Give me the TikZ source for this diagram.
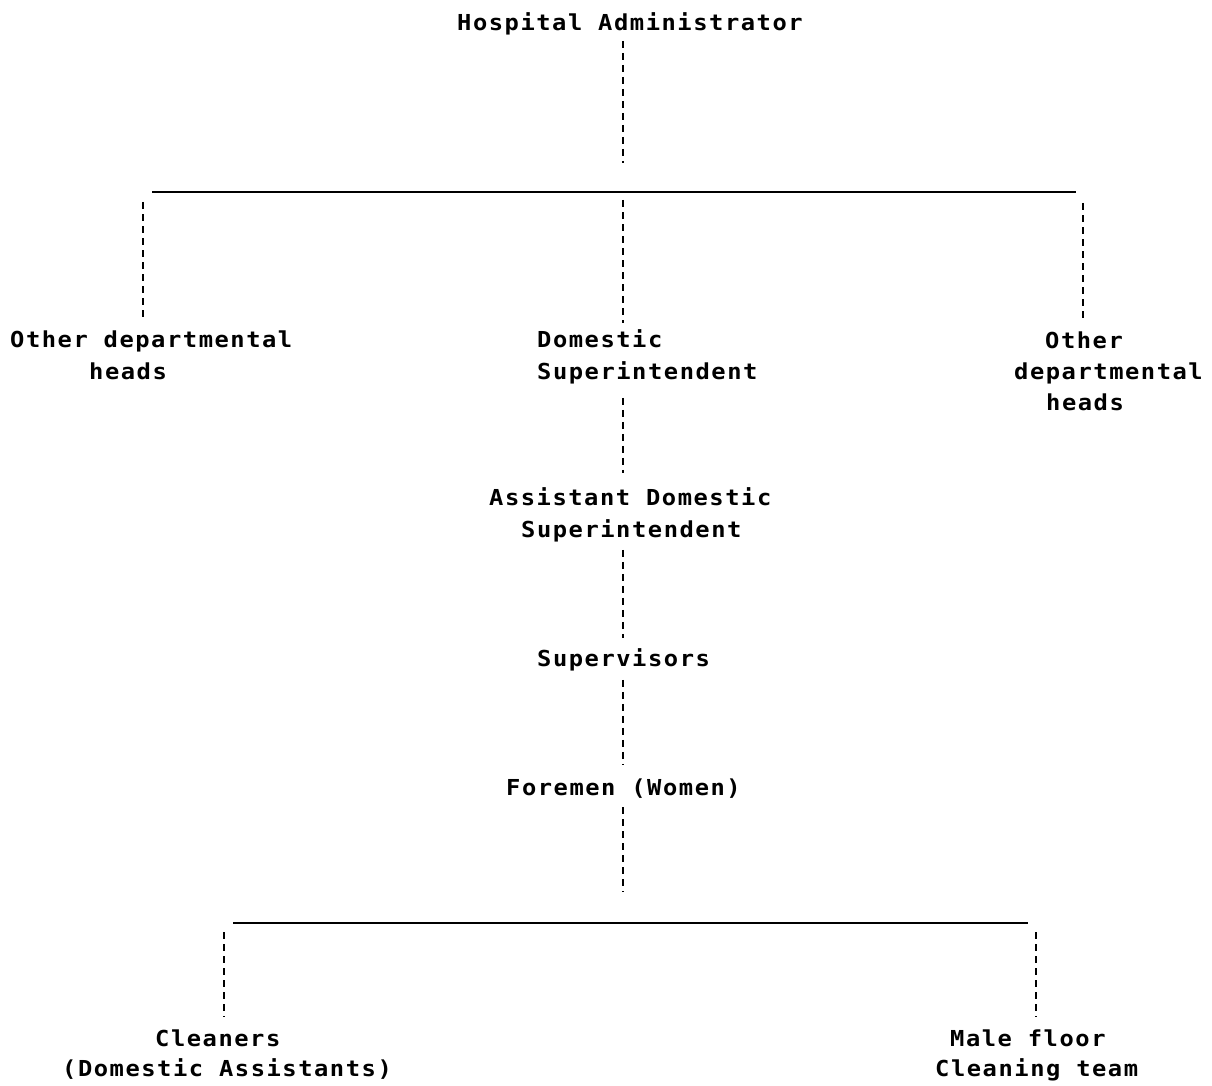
\documentclass[tikz,border=0pt]{standalone}
\usepackage{fontspec}
\newfontfamily\chartfont{DejaVu Sans Mono}[FakeStretch=1.08, LetterSpace=7]
\usetikzlibrary{calc}

\begin{document}
\begin{tikzpicture}[x=1pt,y=-1pt,
  label/.style={inner sep=0pt, anchor=base west, align=left,
    font=\chartfont\bfseries\fontsize{22}{31}\selectfont},
  link/.style={line width=2.2pt, dash pattern=on 7pt off 5pt},
  bar/.style={line width=2.6pt}]
\useasboundingbox (0,0) rectangle (1212,1086);

% --- labels, one node per text line ---
\node[label] (admin)  at (457,31)   {Hospital Administrator};
\node[label] (lhA)    at (10,347)   {Other departmental};
\node[label] (lhB)    at (89,379)   {heads};
\node[label] (domA)   at (537,347)  {Domestic};
\node[label] (domB)   at (537,379)  {Superintendent};
\node[label] (rhA)    at (1045,348) {Other};
\node[label] (rhB)    at (1014,379) {departmental};
\node[label] (rhC)    at (1046,410) {heads};
\node[label] (asstA)  at (489,505)  {Assistant Domestic};
\node[label] (asstB)  at (521,537)  {Superintendent};
\node[label] (sup)    at (537,666)  {Supervisors};
\node[label] (fore)   at (506,795)  {Foremen (Women)};
\node[label] (clnA)   at (155,1046) {Cleaners};
\node[label] (clnB)   at (62,1076)  {(Domestic Assistants)};
\node[label] (maleA)  at (950,1046) {Male floor};
\node[label] (maleB)  at (935,1076) {Cleaning team};

% --- spine and branch columns ---
\coordinate (spine) at (623,0);
\coordinate (colL)  at (143,0);
\coordinate (colR)  at (1083,0);
\coordinate (colBL) at (224,0);
\coordinate (colBR) at (1036,0);

% --- horizontal bars ---
\coordinate (topL) at (152,192);
\coordinate (topR) at (1076,192);
\coordinate (botL) at (233,923);
\coordinate (botR) at (1028,923);
\draw[bar] (topL) -- (topR);
\draw[bar] (botL) -- (botR);

% --- dashed reporting lines ---
\draw[link, shorten <=5pt,  shorten >=29pt] (admin.south -| spine) -- (topL -| spine);
\draw[link, shorten <=10pt, shorten >=13pt] (topL -| colL)  -- (lhA.north -| colL);
\draw[link, shorten <=8pt,  shorten >=6pt]  (topL -| spine) -- (domA.north -| spine);
\draw[link, shorten <=11pt, shorten >=12pt] (topR -| colR)  -- (rhA.north -| colR);
\draw[link, shorten <=14pt, shorten >=14pt] (domB.south -| spine)  -- (asstA.north -| spine);
\draw[link, shorten <=8pt,  shorten >=10pt] (asstB.south -| spine) -- (sup.north -| spine);
\draw[link, shorten <=9pt,  shorten >=14pt] (sup.south -| spine)   -- (fore.north -| spine);
\draw[link, shorten <=9pt,  shorten >=31pt] (fore.south -| spine)  -- (botL -| spine);
\draw[link, shorten <=9pt,  shorten >=12pt] (botL -| colBL) -- (clnA.north -| colBL);
\draw[link, shorten <=9pt,  shorten >=12pt] (botR -| colBR) -- (maleA.north -| colBR);
\end{tikzpicture}
\end{document}
